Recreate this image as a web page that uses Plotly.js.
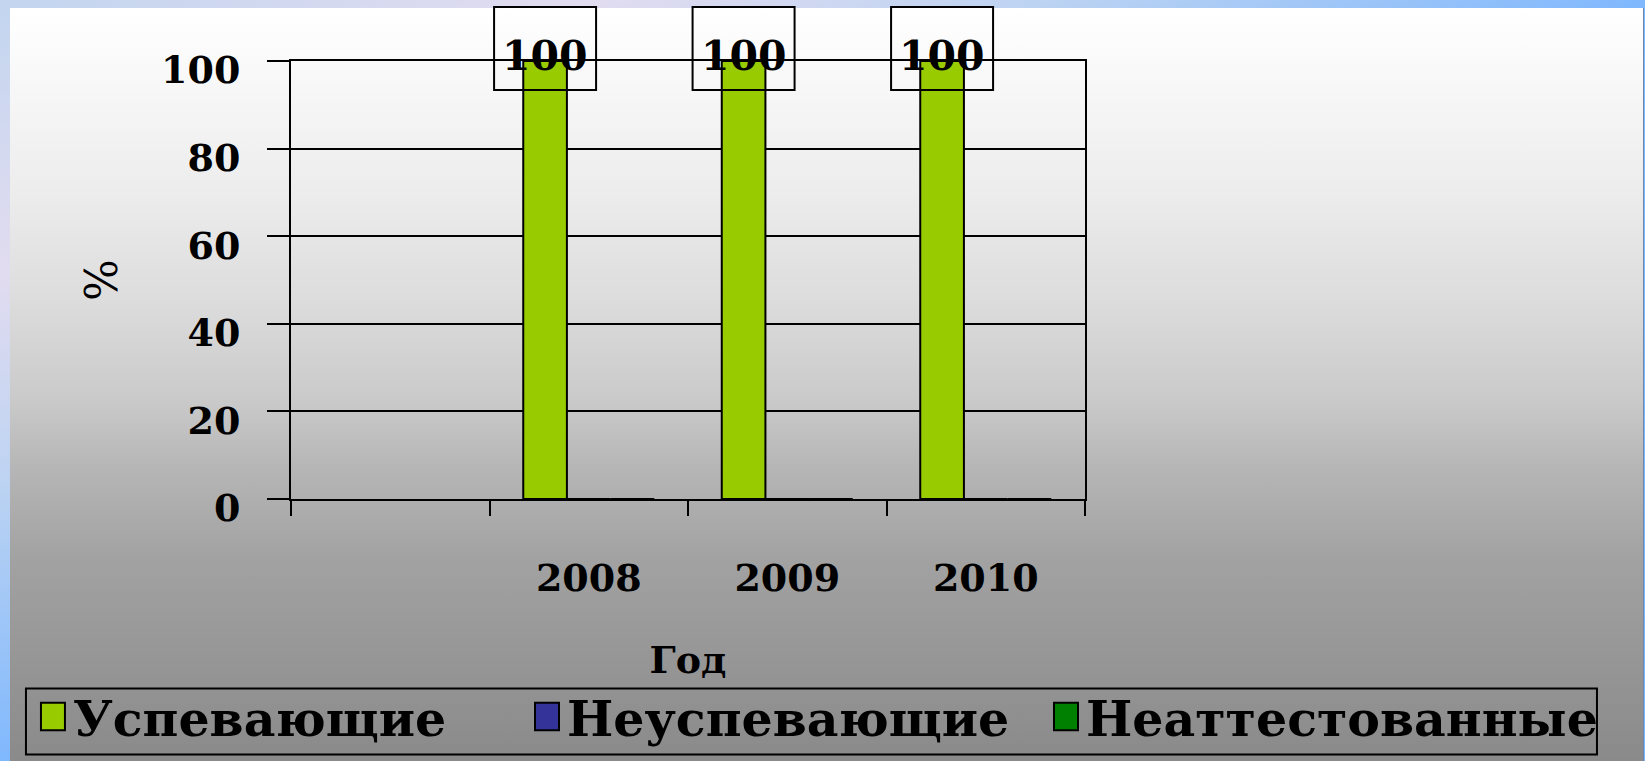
<!DOCTYPE html>
<html>
<head>
<meta charset="utf-8">
<script src="https://cdn.plot.ly/plotly-3.0.1.min.js"></script>
<style>
  html, body { margin: 0; padding: 0; overflow: hidden; }
  body {
    width: 1645px; height: 761px;
    background: linear-gradient(to bottom right, #c2d5ef 0%, #e2dcf0 18%, #bcd3f2 32%, #80b8fd 50%, #7cb6fb 100%);
  }
  /* увеличенные значки легенды (плотли ставит translate(20,0) на сам path) */
  .legendpoints path {
    transform: translate(20px, 0px) scale(2, 2.3);
    vector-effect: non-scaling-stroke;
  }
</style>
</head>
<body>
<div id="panel"></div>
<div id="chart"></div>
<script>
// Данные
const years = [' ', '2008', '2009', '2010'];
const uspev = [null, 100, 100, 100];
const neuspev = [null, 0, 0, 0];
const neatt = [null, 0, 0, 0];
const seriesNames = ['Успевающие', 'Неуспевающие', 'Неаттестованные'];
const seriesColors = ['#99cc00', '#333399', '#008000'];
const yRange = [0, 100];

// 1) Фон слайда
const panel = document.getElementById('panel');
Object.assign(panel.style, {
    position: 'absolute', left: '10px', top: '8px',
    width: '1633px', height: '753px',
    borderRight: '1px solid #6f87a8',
    background: 'linear-gradient(to bottom, #ffffff 0%, #fafafa 7%, #ececec 25%, #dcdcdc 39%, #cacaca 52%, #b6b6b6 61%, #a2a2a2 73%, #8a8a8a 100%)'
});

const chart = document.getElementById('chart');
Object.assign(chart.style, {
    position: 'absolute', left: '0px', top: '0px',
    width: '1645px', height: '761px'
});

// 2) Трассы, каждая со своей легендой
const serif = 'DejaVu Serif, Liberation Serif, serif';
const legendIds = ['legend', 'legend2', 'legend3'];
const allValues = [uspev, neuspev, neatt];
const traces = allValues.map((vals, i) => ({
    type: 'bar',
    x: years,
    y: vals,
    name: seriesNames[i],
    legend: legendIds[i],
    marker: { color: seriesColors[i], line: { color: '#000', width: 2 } },
    hoverinfo: 'skip'
}));

// 3) Подписи значений в рамках
const bargap = 0.34;
const barW = (1 - bargap) / 3;
const annotations = [];
const shapes = [];
uspev.forEach((v, i) => {
    if (v === null) return;
    annotations.push({
        x: i - barW, y: v, xref: 'x', yref: 'y',
        text: String(v), showarrow: false,
        xanchor: 'center', yanchor: 'middle', yshift: 5,
        font: { family: serif, size: 41, weight: 'bold', color: '#000' }
    });
    shapes.push({
        type: 'rect', layer: 'above',
        xref: 'x', xsizemode: 'pixel', xanchor: i - barW, x0: -51, x1: 51,
        yref: 'paper', ysizemode: 'pixel',
        yanchor: (v - yRange[0]) / (yRange[1] - yRange[0]), y0: -29, y1: 54,
        line: { color: '#000', width: 2 }, fillcolor: 'rgba(0,0,0,0)'
    });
});

// рамка общей легенды
shapes.push({
    type: 'rect', layer: 'above', xref: 'paper', yref: 'paper',
    x0: -0.3338, x1: 1.6448, y0: -0.5833, y1: -0.4325,
    line: { color: '#000', width: 2 }, fillcolor: 'rgba(0,0,0,0)'
});

function legendAt(x) {
    return {
        orientation: 'h',
        x: x, xanchor: 'left',
        y: -0.497, yanchor: 'middle',
        bgcolor: 'rgba(0,0,0,0)', borderwidth: 0,
        itemwidth: 30,
        font: { family: serif, size: 49, weight: 'bold', color: '#000' }
    };
}

// 4) Оформление
const layout = {
    width: 1645, height: 761,
    margin: { l: 291, r: 560, t: 61, b: 262, autoexpand: false },
    paper_bgcolor: 'rgba(0,0,0,0)',
    plot_bgcolor: 'rgba(0,0,0,0)',
    barmode: 'group',
    bargap: bargap,
    bargroupgap: 0,
    showlegend: true,
    xaxis: {
        type: 'category',
        categoryorder: 'array', categoryarray: years,
        range: [-0.5, 3.5],
        showline: true, linecolor: '#000', linewidth: 2, mirror: true,
        ticks: 'outside', tickson: 'boundaries', ticklen: 15, tickwidth: 2, tickcolor: '#000',
        showgrid: false,
        ticklabelstandoff: 44,
        tickfont: { family: serif, size: 38, weight: 'bold', color: '#000' },
        title: { text: 'Год', standoff: 48,
                 font: { family: serif, size: 38, weight: 'bold', color: '#000' } }
    },
    yaxis: {
        range: yRange, dtick: 20,
        showline: true, linecolor: '#000', linewidth: 2, mirror: true,
        ticks: 'outside', ticklen: 22, tickwidth: 2, tickcolor: '#000',
        showgrid: true, gridcolor: '#000', gridwidth: 2,
        zeroline: false,
        ticklabelstandoff: 19,
        ticklabelshift: 9,
        tickfont: { family: serif, size: 38, weight: 'bold', color: '#000' },
        title: { text: '%', standoff: 30,
                 font: { family: serif, size: 44, color: '#000' } }
    },
    legend: legendAt(-0.325),
    legend2: legendAt(0.2972),
    legend3: legendAt(0.9509),
    annotations: annotations,
    shapes: shapes
};

Plotly.newPlot(chart, traces, layout, { displayModeBar: false, responsive: false });
</script>
</body>
</html>
